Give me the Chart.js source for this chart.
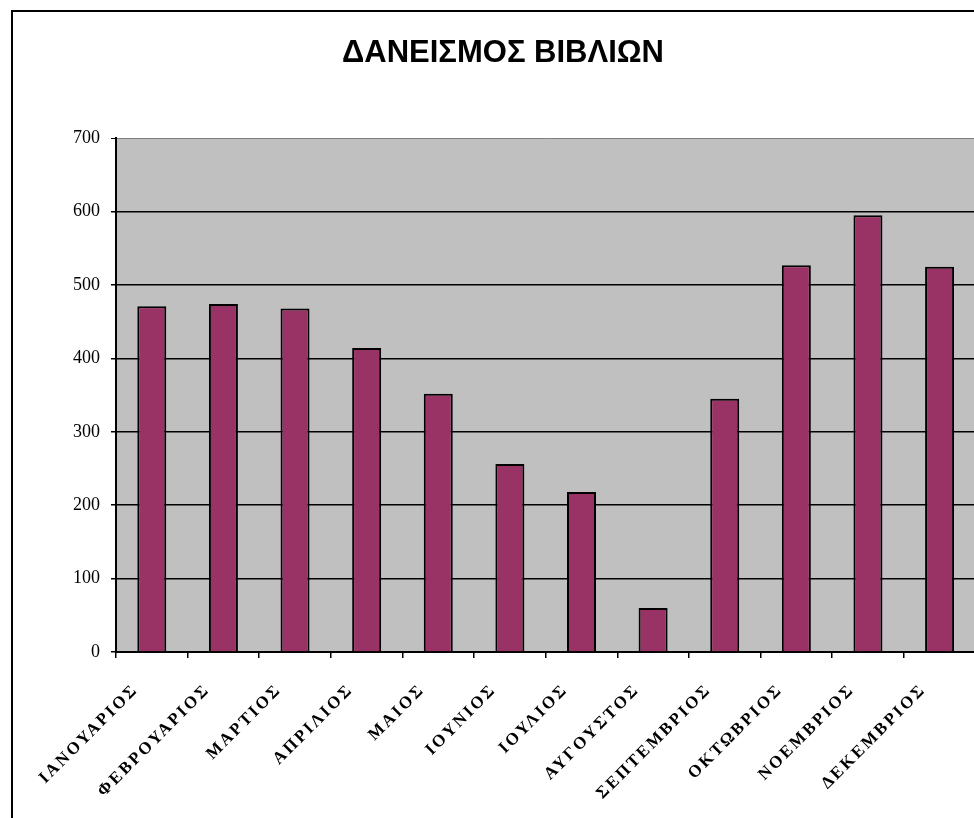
<!DOCTYPE html>
<html>
<head>
<meta charset="utf-8">
<script src="https://cdn.jsdelivr.net/npm/chart.js@4.4.1/dist/chart.umd.min.js"></script>
<style>
  html, body { margin: 0; padding: 0; overflow: hidden; background: #fff; width: 974px; height: 818px; }
  #frame { position: absolute; left: 11px; top: 10px; width: 1000px; height: 900px; border: 2px solid #000; box-sizing: border-box; }
  #wrap { position: absolute; left: 0; top: 0; width: 976px; height: 830px; }
</style>
</head>
<body>
<div id="frame"></div>
<div id="wrap"><canvas id="c" width="976" height="830"></canvas></div>
<script>
const title = 'ΔΑΝΕΙΣΜΟΣ ΒΙΒΛΙΩΝ';
const months = ['ΙΑΝΟΥΑΡΙΟΣ', 'ΦΕΒΡΟΥΑΡΙΟΣ', 'ΜΑΡΤΙΟΣ', 'ΑΠΡΙΛΙΟΣ', 'ΜΑΙΟΣ', 'ΙΟΥΝΙΟΣ',
                'ΙΟΥΛΙΟΣ', 'ΑΥΓΟΥΣΤΟΣ', 'ΣΕΠΤΕΜΒΡΙΟΣ', 'ΟΚΤΩΒΡΙΟΣ', 'ΝΟΕΜΒΡΙΟΣ', 'ΔΕΚΕΜΒΡΙΟΣ'];
const loans = [471, 474, 468, 414, 352, 256, 218, 60, 345, 527, 595, 525];
const yMin = 0, yMax = 700, yStep = 100;

const plotBg = {
  id: 'plotBg',
  beforeDraw(chart) {
    const {ctx, chartArea: a} = chart;
    ctx.save();
    ctx.fillStyle = '#C0C0C0';
    ctx.fillRect(a.left, a.top, a.right - a.left, a.bottom - a.top);
    ctx.restore();
  }
};

const spacedLabels = {
  id: 'spacedLabels',
  afterLayout(chart) {
    const s = chart.scales.x;
    if (s && !s._spaced) {
      const orig = s.drawLabels;
      s.drawLabels = function (ca) {
        const ctx = this.ctx;
        ctx.save();
        ctx.letterSpacing = '2.5px';
        orig.call(this, ca);
        ctx.restore();
      };
      s._spaced = true;
    }
  }
};

new Chart(document.getElementById('c'), {
  type: 'bar',
  data: {
    labels: months,
    datasets: [{
      data: loans,
      backgroundColor: '#993366',
      borderColor: '#000',
      borderWidth: 2,
      categoryPercentage: 1,
      barPercentage: 0.405
    }]
  },
  options: {
    responsive: false,
    animation: false,
    layout: { padding: { left: 30, right: 0, top: 0, bottom: 0 } },
    plugins: {
      legend: { display: false },
      tooltip: { enabled: false },
      title: {
        display: true,
        text: title,
        color: '#000',
        font: { family: "'Liberation Sans', Arial, sans-serif", size: 31, weight: 'bold', lineHeight: 1.2 },
        padding: { top: 35, bottom: 66 }
      }
    },
    scales: {
      x: {
        offset: true,
        grid: { offset: true, drawOnChartArea: false, drawTicks: true, tickLength: 6, tickColor: '#000', lineWidth: 1.5 },
        border: { color: '#000', width: 2 },
        ticks: {
          color: '#000',
          minRotation: 45, maxRotation: 45,
          autoSkip: false,
          padding: 22,
          labelOffset: -16,
          font: { family: "'Liberation Serif', 'Times New Roman', serif", size: 17, weight: 'bold' }
        },
        afterFit(s) { s.height = 178; }
      },
      y: {
        min: yMin, max: yMax,
        grid: {
          color: (c) => c.tick && c.tick.value === yMax ? '#808080' : '#000',
          lineWidth: (c) => c.tick && c.tick.value === yMax ? 1 : 1.5,
          tickColor: '#000', tickLength: 5, drawTicks: true
        },
        border: { color: '#000', width: 2 },
        ticks: {
          stepSize: yStep,
          color: '#000',
          padding: 11,
          font: { family: "'Liberation Serif', 'Times New Roman', serif", size: 18 }
        },
        afterFit(s) { s.width = 86; }
      }
    }
  },
  plugins: [plotBg, spacedLabels]
});
</script>
</body>
</html>
